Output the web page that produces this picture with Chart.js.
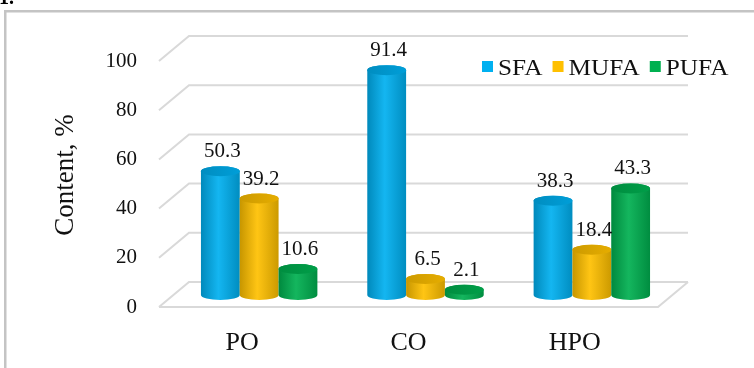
<!DOCTYPE html>
<html>
<head>
<meta charset="utf-8">
<script src="https://cdn.jsdelivr.net/npm/chart.js@4.4.1/dist/chart.umd.min.js"></script>
<style>
  html, body { margin: 0; padding: 0; background: #fff; }
</style>
</head>
<body>
<canvas id="chart" width="754" height="368"></canvas>
<script>
const categories = ['PO', 'CO', 'HPO'];
const seriesNames = ['SFA', 'MUFA', 'PUFA'];
const sfa = [50.3, 91.4, 38.3];
const mufa = [39.2, 6.5, 18.4];
const pufa = [10.6, 2.1, 43.3];
const yTicks = [0, 20, 40, 60, 80, 100];
const colors = ['#00b0f0', '#ffc000', '#00b050'];

const serif = '"Liberation Serif", "Times New Roman", serif';
const textColor = '#111';
const gridColor = '#d9d9d9';
// depth of the 3d box, bars sit about half way in
const DX = 30, DY = -25;
const BAR_DX = 17, BAR_DY = -12;

function shade(hex, amt) {
  const n = parseInt(hex.slice(1), 16);
  let r = n >> 16, g = (n >> 8) & 255, b = n & 255;
  const t = amt < 0 ? 0 : 255, p = Math.abs(amt);
  r = Math.round(r + (t - r) * p);
  g = Math.round(g + (t - g) * p);
  b = Math.round(b + (t - b) * p);
  return 'rgb(' + r + ',' + g + ',' + b + ')';
}

function cylinder(ctx, cx, top, base, rx, ry, color) {
  const g = ctx.createLinearGradient(cx - rx, 0, cx + rx, 0);
  g.addColorStop(0, shade(color, -0.22));
  g.addColorStop(0.45, shade(color, 0.08));
  g.addColorStop(1, shade(color, -0.2));
  ctx.beginPath();
  ctx.moveTo(cx - rx, top);
  ctx.lineTo(cx - rx, base);
  ctx.ellipse(cx, base, rx, ry, 0, Math.PI, 0, true);
  ctx.lineTo(cx + rx, top);
  ctx.ellipse(cx, top, rx, ry, 0, 0, Math.PI, true);
  ctx.closePath();
  ctx.fillStyle = g;
  ctx.fill();
  const g2 = ctx.createLinearGradient(cx - rx, 0, cx + rx, 0);
  g2.addColorStop(0, shade(color, -0.2));
  g2.addColorStop(1, shade(color, -0.1));
  ctx.beginPath();
  ctx.ellipse(cx, top, rx, ry, 0, 0, Math.PI * 2);
  ctx.fillStyle = g2;
  ctx.fill();
}

const cylinders = {
  id: 'cylinders',
  beforeDraw(chart) {
    const ctx = chart.ctx;
    ctx.save();
    ctx.fillStyle = '#fff';
    ctx.fillRect(0, 0, chart.width, chart.height);
    ctx.fillStyle = '#c4c4c4';
    ctx.fillRect(4, 10, chart.width, 2.5);
    ctx.fillRect(4, 10, 2.5, chart.height);
    ctx.fillStyle = '#000';
    ctx.font = 'bold 20px ' + serif;
    ctx.textBaseline = 'alphabetic';
    ctx.fillText('1.', -1, 4);
    ctx.restore();
  },
  beforeDatasetsDraw(chart) {
    const ctx = chart.ctx;
    const area = chart.chartArea;
    const ys = chart.scales.y;
    ctx.save();

    // 3d grid: diagonal on the left wall, then along the back wall
    ctx.strokeStyle = gridColor;
    ctx.lineWidth = 2;
    yTicks.forEach(v => {
      const y = ys.getPixelForValue(v);
      ctx.beginPath();
      ctx.moveTo(area.left, y);
      ctx.lineTo(area.left + DX, y + DY);
      ctx.lineTo(area.right + DX, y + DY);
      ctx.stroke();
    });
    const y0 = ys.getPixelForValue(0);
    ctx.beginPath();
    ctx.moveTo(area.left, y0);
    ctx.lineTo(area.right, y0);
    ctx.lineTo(area.right + DX, y0 + DY);
    ctx.stroke();

    // bars as cylinders
    const ry = 5;
    chart.data.datasets.forEach((ds, di) => {
      const meta = chart.getDatasetMeta(di);
      meta.data.forEach(bar => {
        const p = bar.getProps(['x', 'y', 'base', 'width'], true);
        cylinder(ctx, p.x + BAR_DX, p.y + BAR_DY, p.base + BAR_DY, p.width / 2, ry, ds.backgroundColor);
      });
    });

    // value labels
    ctx.fillStyle = textColor;
    ctx.font = '21px ' + serif;
    ctx.textAlign = 'center';
    ctx.textBaseline = 'alphabetic';
    chart.data.datasets.forEach((ds, di) => {
      const meta = chart.getDatasetMeta(di);
      meta.data.forEach((bar, i) => {
        const p = bar.getProps(['x', 'y'], true);
        ctx.fillText(ds.data[i].toFixed(1), p.x + BAR_DX + 2, p.y + BAR_DY - ry - 9);
      });
    });

    // legend, top right inside the plot
    ctx.font = '23px ' + serif;
    ctx.textAlign = 'left';
    const stretch = 1.1;
    let lx = 482;
    const ly = 61;
    seriesNames.forEach((name, i) => {
      ctx.fillStyle = colors[i];
      ctx.fillRect(lx, ly, 11, 11);
      ctx.fillStyle = textColor;
      ctx.save();
      ctx.translate(lx + 16, ly + 14);
      ctx.scale(stretch, 1);
      ctx.fillText(name, 0, 0);
      ctx.restore();
      lx += 16 + ctx.measureText(name).width * stretch + 10;
    });

    // y axis title
    ctx.translate(66, 175);
    ctx.rotate(-Math.PI / 2);
    ctx.font = '27px ' + serif;
    ctx.textAlign = 'center';
    ctx.textBaseline = 'middle';
    ctx.fillText('Content, %', 0, 0);
    ctx.restore();
    return false;
  }
};

const ctx = document.querySelector('#chart').getContext('2d');
const chart = new Chart(ctx, {
  type: 'bar',
  data: {
    labels: categories,
    datasets: [
      { label: seriesNames[0], data: sfa, backgroundColor: colors[0] },
      { label: seriesNames[1], data: mufa, backgroundColor: colors[1] },
      { label: seriesNames[2], data: pufa, backgroundColor: colors[2] }
    ]
  },
  options: {
    responsive: false,
    animation: false,
    devicePixelRatio: 1,
    categoryPercentage: 0.7,
    barPercentage: 1,
    layout: { padding: { left: 0, right: 96, top: 61, bottom: 0 } },
    plugins: { legend: { display: false }, tooltip: { enabled: false } },
    scales: {
      x: {
        grid: { display: false },
        border: { display: false },
        ticks: { color: textColor, font: { family: serif, size: 26 }, padding: 13 },
        afterFit(s) { s.height = 61; }
      },
      y: {
        min: 0,
        max: 100,
        grid: { display: false },
        border: { display: false },
        ticks: { color: textColor, font: { family: serif, size: 21 }, padding: 14 },
        afterBuildTicks(s) { s.ticks = yTicks.map(v => ({ value: v })); },
        afterFit(s) { s.width = 159; }
      }
    }
  },
  plugins: [cylinders]
});
</script>
</body>
</html>
